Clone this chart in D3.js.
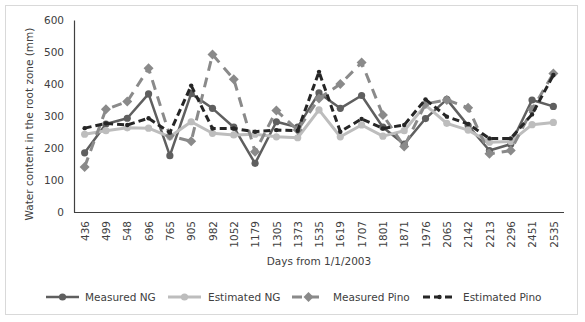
<!DOCTYPE html>
<html>
<head>
<meta charset="utf-8">
<script src="https://cdn.jsdelivr.net/npm/d3@7"></script>
<style>
  html, body { margin: 0; padding: 0; background: #fff; }
  svg text { font-family: "DejaVu Sans", Verdana, sans-serif; fill: #404040; }
</style>
</head>
<body>
<svg id="chart" width="585" height="322"></svg>
<script>
// Days from 1/1/2003
const days = ["436","499","548","696","765","905","982","1052","1179","1305","1373","1535",
              "1619","1707","1801","1871","1976","2065","2142","2213","2296","2451","2535"];

// Water content in the root zone (mm)
const measuredNG    = [185, 275, 293, 369, 176, 370, 324, 265, 152, 282, 265, 372, 324, 364, 265, 212, 292, 352, 270, 192, 212, 350, 330];
const estimatedNG   = [243, 254, 263, 262, 235, 282, 246, 241, 243, 235, 232, 319, 235, 272, 237, 254, 334, 277, 256, 218, 220, 273, 280];
const measuredPino  = [141, 321, 345, 449, 238, 221, 492, 415, 188, 317, 256, 355, 400, 467, 303, 205, 338, 350, 326, 182, 192, 320, 433];
const estimatedPino = [262, 277, 272, 293, 248, 395, 261, 261, 251, 256, 254, 438, 251, 291, 261, 272, 352, 298, 275, 230, 230, 305, 428];

const yTicks = [0, 100, 200, 300, 400, 500, 600];

const series = [
  { name: "Measured NG",    values: measuredNG,    color: "#5f5f5f", width: 2.5, dash: null,  marker: "circle",  r: 3.6 },
  { name: "Estimated NG",   values: estimatedNG,   color: "#bdbdbd", width: 3,   dash: null,  marker: "circle",  r: 3.6 },
  { name: "Measured Pino",  values: measuredPino,  color: "#8a8a8a", width: 3,   dash: "10,7", marker: "diamond", r: 5 },
  { name: "Estimated Pino", values: estimatedPino, color: "#262626", width: 3,   dash: "7,4", marker: "circle",  r: 2.2 }
];

const svg = d3.select("#chart");

// outer frame
svg.append("rect")
  .attr("x", 5.5).attr("y", 5.5).attr("width", 572).attr("height", 309)
  .attr("fill", "#fff").attr("stroke", "#d9d9d9").attr("stroke-width", 1);

const plotLeft = 74, plotRight = 564, plotTop = 20, plotBottom = 212;

const x = d3.scalePoint().domain(days).range([plotLeft, plotRight]).padding(0.5);
const y = d3.scaleLinear().domain([0, 600]).range([plotBottom, plotTop]);

// y axis
const yAxis = svg.append("g")
  .attr("transform", `translate(${plotLeft},0)`)
  .call(d3.axisLeft(y).tickValues(yTicks).tickSize(0).tickPadding(10));
yAxis.select(".domain").attr("stroke", "#404040").attr("stroke-width", 1.2);
yAxis.selectAll("text").style("font-size", "10.5px").attr("fill", "#404040")
  .style("font-family", "DejaVu Sans, sans-serif");

// x axis
const xAxis = svg.append("g")
  .attr("transform", `translate(0,${plotBottom})`)
  .call(d3.axisBottom(x).tickSize(0).tickSizeOuter(0));
xAxis.select(".domain").attr("stroke", "#404040").attr("stroke-width", 1.2)
  .attr("d", `M${plotLeft},0.5H${plotRight}`);
xAxis.selectAll("text")
  .style("font-size", "10.5px").attr("fill", "#404040")
  .style("font-family", "DejaVu Sans, sans-serif")
  .attr("transform", "rotate(-90)")
  .attr("text-anchor", "end")
  .attr("dy", "0.35em")
  .attr("x", -9)
  .attr("y", 0);

// axis titles
svg.append("text")
  .attr("transform", `translate(33,${(plotTop + plotBottom) / 2 + 8}) rotate(-90)`)
  .attr("text-anchor", "middle")
  .style("font-size", "10.5px")
  .text("Water content in the root zone (mm)");

svg.append("text")
  .attr("x", 319).attr("y", 265)
  .attr("text-anchor", "middle")
  .style("font-size", "10.5px")
  .text("Days from 1/1/2003");

const line = d3.line().x((d, i) => x(days[i])).y(d => y(d));
const diamond = r => `M0,${-r}L${r},0L0,${r}L${-r},0Z`;

function drawMarker(g, s, cx, cy) {
  if (s.marker === "diamond") {
    g.append("path").attr("d", diamond(s.r))
      .attr("transform", `translate(${cx},${cy})`).attr("fill", s.color);
  } else {
    g.append("circle").attr("cx", cx).attr("cy", cy).attr("r", s.r).attr("fill", s.color);
  }
}

series.forEach(s => {
  const g = svg.append("g");
  g.append("path")
    .datum(s.values)
    .attr("d", line)
    .attr("fill", "none")
    .attr("stroke", s.color)
    .attr("stroke-width", s.width)
    .attr("stroke-dasharray", s.dash)
    .attr("stroke-linejoin", "round");
  s.values.forEach((v, i) => drawMarker(g, s, x(days[i]), y(v)));
});

// legend
const legendItems = [
  { lx: 46,  tx: 85 },
  { lx: 168, tx: 208 },
  { lx: 292, tx: 333 },
  { lx: 423, tx: 463 }
];
const ly = 297;
series.forEach((s, i) => {
  const g = svg.append("g");
  const p = legendItems[i];
  g.append("line")
    .attr("x1", p.lx).attr("x2", p.lx + 33).attr("y1", ly).attr("y2", ly)
    .attr("stroke", s.color).attr("stroke-width", s.width)
    .attr("stroke-dasharray", s.dash);
  drawMarker(g, s, p.lx + 16.5, ly);
  g.append("text").attr("x", p.tx).attr("y", ly + 4)
    .style("font-size", "10.5px").text(s.name);
});
</script>
</body>
</html>
